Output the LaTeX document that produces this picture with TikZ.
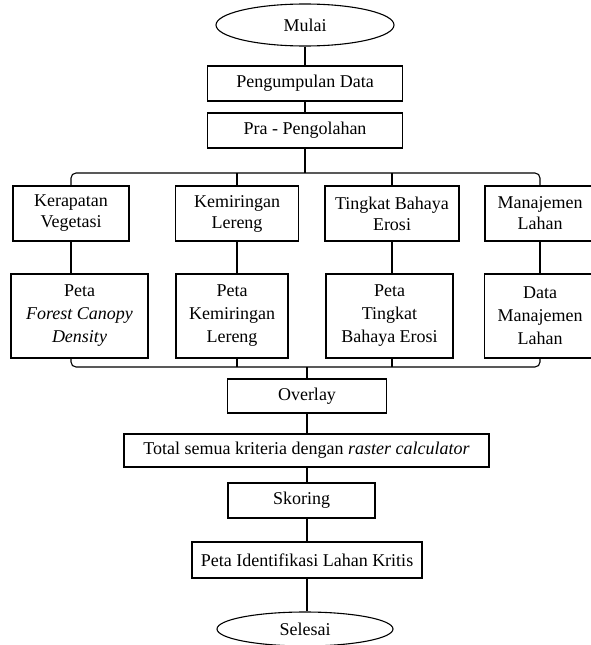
\documentclass[tikz,border=0pt]{standalone}
\usepackage{fontspec}
\setmainfont{Liberation Serif}
\usetikzlibrary{shapes.geometric}
\begin{document}
\begin{tikzpicture}[x=1pt,y=-1pt,
  box/.style={draw, line width=1.1pt, align=center, inner sep=0pt, font=\fontsize{18}{21}\selectfont},
  tall/.style={box, font=\fontsize{18}{23}\selectfont},
  oval/.style={draw, ellipse, line width=1.1pt, inner sep=0pt, font=\fontsize{18}{21}\selectfont},
  link/.style={line width=1.1pt}]
\useasboundingbox (0,0) rectangle (590,645);

\node[oval, minimum width=178pt, minimum height=42pt] (mulai) at (305,25) {Mulai};
\node[box, minimum width=195pt, minimum height=35pt] (pd) at (305,83.5) {Pengumpulan Data};
\node[box, minimum width=195pt, minimum height=35pt] (pra) at (305,130.5) {Pra - Pengolahan};

\node[box, minimum width=116pt, minimum height=55pt] (k1) at (71,213.5) {Kerapatan\\Vegetasi};
\node[box, minimum width=123pt, minimum height=55pt] (k2) at (237,213.5) {Kemiringan\\Lereng};
\node[box, minimum width=134pt, minimum height=55pt] (k3) at (392,213.5) {Tingkat Bahaya\\Erosi};
\node[box, minimum width=110pt, minimum height=55pt] (k4) at (540,213.5) {Manajemen\\Lahan};

\node[tall, minimum width=137pt, minimum height=84pt] (p1) at (79.5,316) {Peta\\\textit{Forest Canopy}\\\textit{Density}};
\node[tall, minimum width=112pt, minimum height=84pt] (p2) at (232,316) {Peta\\Kemiringan\\Lereng};
\node[tall, minimum width=127pt, minimum height=84pt] (p3) at (389.5,316) {Peta\\Tingkat\\Bahaya Erosi};
\node[tall, minimum width=111pt, minimum height=84pt] (p4) at (540,316) {Data\\Manajemen\\Lahan};

\node[box, minimum width=159pt, minimum height=34pt] (overlay) at (307,396) {Overlay};
\node[box, minimum width=365pt, minimum height=33pt] (total) at (306.5,450.5) {Total semua kriteria dengan \textit{raster calculator}};
\node[box, minimum width=147pt, minimum height=35pt] (skoring) at (301.5,500.5) {Skoring};
\node[box, minimum width=230pt, minimum height=36pt] (peta) at (307,560) {Peta Identifikasi Lahan Kritis};
\node[oval, minimum width=176pt, minimum height=34pt] (selesai) at (305,629) {Selesai};

\coordinate (bt) at (305,173);
\coordinate (bb) at (307,367);

\draw[link] (mulai.south) -- (pd.north);
\draw[link] (pd.south) -- (pra.north);
\draw[link] (pra.south) -- (bt);
\draw[link, rounded corners=5pt] (k1.north) -- (k1.north |- bt) -- (k4.north |- bt) -- (k4.north);
\draw[link] (k2.north |- bt) -- (k2.north);
\draw[link] (k3.north |- bt) -- (k3.north);

\draw[link] (k1.south) -- (k1.south |- p1.north);
\draw[link] (k2.south) -- (k2.south |- p2.north);
\draw[link] (k3.south) -- (k3.south |- p3.north);
\draw[link] (k4.south) -- (k4.south |- p4.north);

\draw[link, rounded corners=5pt] (p1.south -| k1.south) -- (k1.south |- bb) -- (k4.south |- bb) -- (p4.south -| k4.south);
\draw[link] (p2.south -| k2.south) -- (k2.south |- bb);
\draw[link] (p3.south -| k3.south) -- (k3.south |- bb);
\draw[link] (bb) -- (overlay.north);

\draw[link] (overlay.south) -- (overlay.south |- total.north);
\draw[link] (total.south -| overlay.south) -- (skoring.north -| overlay.south);
\draw[link] (skoring.south -| overlay.south) -- (peta.north);
\draw[link] (peta.south) -- (peta.south |- selesai.north);
\end{tikzpicture}
\end{document}
